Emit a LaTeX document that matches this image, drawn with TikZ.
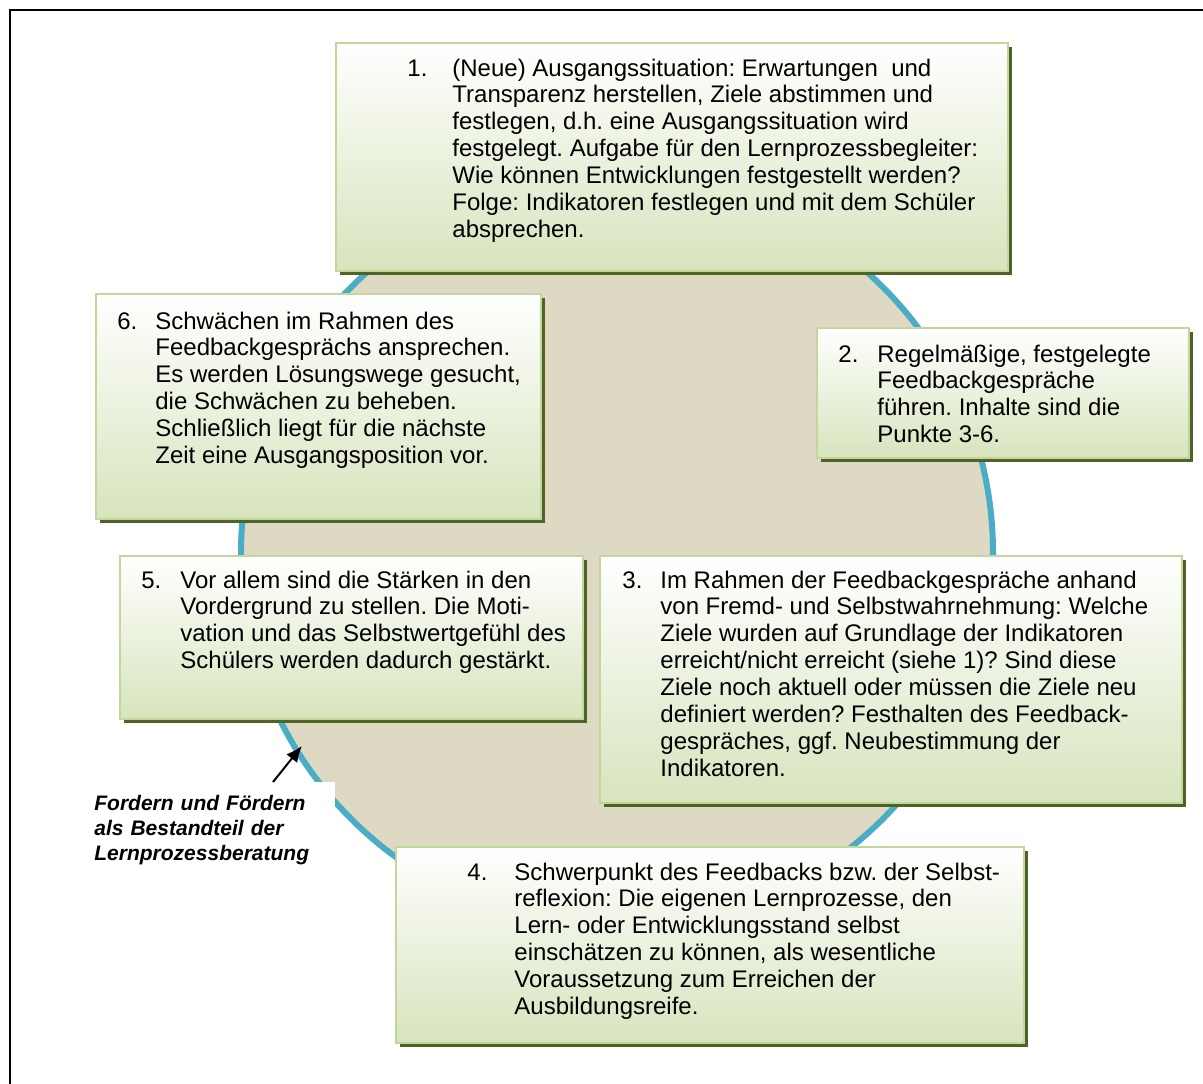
\documentclass[tikz,border=0pt]{standalone}
\usepackage{fontspec}
\setmainfont{Liberation Sans}
\usetikzlibrary{shadows,arrows.meta}
\definecolor{boxgreen}{HTML}{D7E4BD}
\definecolor{boxedge}{HTML}{C3D69B}
\definecolor{shadowgreen}{HTML}{4F6228}
\definecolor{discfill}{HTML}{DDD9C3}
\definecolor{ringblue}{HTML}{4BACC6}
\newcommand{\stepitem}[3]{\makebox[#2][l]{#1}\begin{tabular}[t]{@{}l@{}}#3\end{tabular}}
\frenchspacing

\begin{document}
\begin{tikzpicture}[x=0.5pt, y=-0.5pt,
  stepbox/.style={draw=boxedge, line width=1pt, top color=white, bottom color=boxgreen, inner sep=0pt,
    drop shadow={shadow xshift=2pt, shadow yshift=-2pt, fill=shadowgreen, opacity=1}},
  steptext/.style={anchor=base west, inner sep=0pt, font=\fontsize{12}{13.45}\selectfont}]
  \useasboundingbox (0,0) rectangle (1203,1083);
  \draw[line width=1.2pt] (10,10) rectangle (1220,1100);

  \node[draw=ringblue, line width=3pt, fill=discfill, circle, minimum size=376pt, inner sep=0pt] at (617,553) (circ) {};

  \node[stepbox, minimum width=336pt, minimum height=114pt] at (672,157) (b1) {};
  \node[stepbox, minimum width=186pt, minimum height=65pt] at (1003,393) (b2) {};
  \node[stepbox, minimum width=291pt, minimum height=123.5pt] at (891,679.5) (b3) {};
  \node[stepbox, minimum width=314pt, minimum height=98pt] at (710,945) (b4) {};
  \node[stepbox, minimum width=231.5pt, minimum height=81.5pt] at (351.5,637.5) (b5) {};
  \node[stepbox, minimum width=222.5pt, minimum height=112.5pt] at (318.5,406.5) (b6) {};

  \node[steptext] at (407,76) (t1) {\stepitem{1.}{22.5pt}{(Neue) Ausgangssituation: Erwartungen\ \ und\\
    Transparenz herstellen, Ziele abstimmen und\\
    festlegen, d.h. eine Ausgangssituation wird\\
    festgelegt. Aufgabe für den Lernprozessbegleiter:\\
    Wie können Entwicklungen festgestellt werden?\\
    Folge: Indikatoren festlegen und mit dem Schüler\\
    absprechen.}};
  \node[steptext] at (838,362) (t2) {\stepitem{2.}{19.5pt}{Regelmäßige, festgelegte\\
    Feedbackgespräche\\
    führen. Inhalte sind die\\
    Punkte 3-6.}};
  \node[steptext] at (622,588) (t3) {\stepitem{3.}{19pt}{Im Rahmen der Feedbackgespräche anhand\\
    von Fremd- und Selbstwahrnehmung: Welche\\
    Ziele wurden auf Grundlage der Indikatoren\\
    erreicht/nicht erreicht (siehe 1)? Sind diese\\
    Ziele noch aktuell oder müssen die Ziele neu\\
    definiert werden? Festhalten des Feedback-\\
    gespräches, ggf. Neubestimmung der\\
    Indikatoren.}};
  \node[steptext] at (467,880) (t4) {\stepitem{4.}{23.5pt}{Schwerpunkt des Feedbacks bzw. der Selbst-\\
    reflexion: Die eigenen Lernprozesse, den\\
    Lern- oder Entwicklungsstand selbst\\
    einschätzen zu können, als wesentliche\\
    Voraussetzung zum Erreichen der\\
    Ausbildungsreife.}};
  \node[steptext] at (141,588) (t5) {\stepitem{5.}{19.5pt}{Vor allem sind die Stärken in den\\
    Vordergrund zu stellen. Die Moti-\\
    vation und das Selbstwertgefühl des\\
    Schülers werden dadurch gestärkt.}};
  \node[steptext] at (117,329) (t6) {\stepitem{6.}{19pt}{Schwächen im Rahmen des\\
    Feedbackgesprächs ansprechen.\\
    Es werden Lösungswege gesucht,\\
    die Schwächen zu beheben.\\
    Schließlich liegt für die nächste\\
    Zeit eine Ausgangsposition vor.}};

  \node[anchor=north west, fill=white, inner xsep=4.5pt, inner ysep=6.5pt, text width=116pt, align=left,
    font=\fontsize{10.5}{12.5}\selectfont\bfseries\itshape] at (85,782) (lbl) {Fordern und Fördern\\als Bestandteil der\\Lernprozessberatung};
  \draw[-{Latex[length=8pt,width=7pt]}, line width=1pt, shorten >=-5pt] ([xshift=94pt]lbl.north west) -- (circ.212.6);
\end{tikzpicture}
\end{document}
